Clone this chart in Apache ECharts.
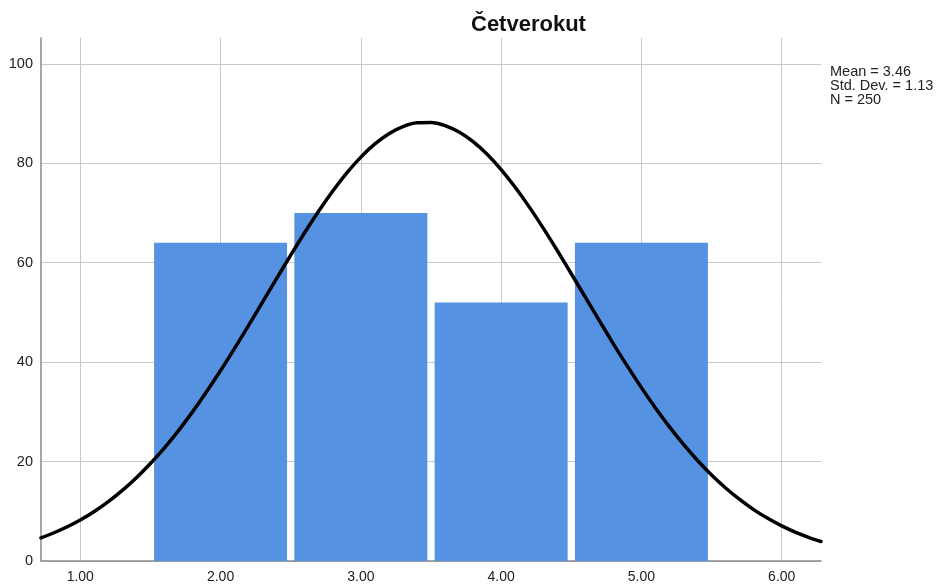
<!DOCTYPE html>
<html>
<head>
<meta charset="utf-8">
<script src="https://cdn.jsdelivr.net/npm/echarts@6/dist/echarts.min.js"></script>
<style>html,body{margin:0;padding:0;background:#fff;}#chart{width:940px;height:585px;}</style>
</head>
<body>
<div id="chart"></div>
<script>
const titleText = "Četverokut";
const statsLines = ["Mean = 3.46", "Std. Dev. = 1.13", "N = 250"];
const binCenters = [2, 3, 4, 5];
const binCounts = [64, 70, 52, 64];
const curveX = [0.72, 0.8, 0.9, 1.0, 1.1, 1.2, 1.3, 1.4, 1.5, 1.6, 1.7, 1.8, 1.9, 2.0, 2.1, 2.2, 2.3, 2.4, 2.5, 2.6, 2.7, 2.8, 2.9, 3.0, 3.1, 3.2, 3.3, 3.4, 3.5, 3.6, 3.7, 3.8, 3.9, 4.0, 4.1, 4.2, 4.3, 4.4, 4.5, 4.6, 4.7, 4.8, 4.9, 5.0, 5.1, 5.2, 5.3, 5.4, 5.5, 5.6, 5.7, 5.8, 5.9, 6.0, 6.1, 6.2, 6.28];
const curveY = [4.67, 5.53, 6.78, 8.25, 9.97, 11.94, 14.2, 16.75, 19.61, 22.77, 26.24, 30.0, 34.04, 38.31, 42.78, 47.4, 52.11, 56.84, 61.52, 66.07, 70.4, 74.42, 78.06, 81.24, 83.89, 85.96, 87.38, 88.14, 88.2, 87.59, 86.29, 84.35, 81.82, 78.74, 75.18, 71.23, 66.95, 62.45, 57.78, 53.06, 48.34, 43.69, 39.19, 34.87, 30.79, 26.97, 23.44, 20.22, 17.3, 14.69, 12.38, 10.34, 8.58, 7.06, 5.76, 4.67, 3.92];
const xTickValues = [1, 2, 3, 4, 5, 6];
const yTickValues = [0, 20, 40, 60, 80, 100];

const chart = echarts.init(document.getElementById('chart'), null, {renderer: 'canvas'});
const FONT = 'Liberation Sans, Arial, sans-serif';
const grid = '#c8c8c8';
const none = 'rgba(0,0,0,0)';
const isTick = (v, list) => list.some(t => Math.abs(t - v) < 1e-6);

chart.setOption({
  animation: false,
  backgroundColor: '#ffffff',
  title: [
    {text: titleText, left: 466, top: 9,
     textStyle: {fontFamily: FONT, fontSize: 22, fontWeight: 'bold', color: '#111'}},
    {text: statsLines.join('\n'), left: 825, top: 60,
     textStyle: {fontFamily: FONT, fontSize: 14.5, fontWeight: 'normal', color: '#222', lineHeight: 14}}
  ],
  grid: {left: 41, right: 119, top: 38, bottom: 24, containLabel: false},
  xAxis: {
    type: 'value', min: 0.72, max: 6.28, minInterval: 1, maxInterval: 1,
    axisLine: {show: true, onZero: false, lineStyle: {color: '#8a8a8a', width: 1.5}},
    axisTick: {show: false},
    axisLabel: {show: true, margin: 9, fontFamily: FONT, fontSize: 14, color: '#222',
      showMinLabel: false, showMaxLabel: false,
      formatter: v => isTick(v, xTickValues) ? v.toFixed(2) : ''},
    splitLine: {show: true, lineStyle: {color: [none, grid, grid, grid, grid, grid, grid, none], width: 1}}
  },
  yAxis: {
    type: 'value', min: 0, max: 105.2, interval: 20,
    axisLine: {show: true, lineStyle: {color: '#8a8a8a', width: 1.5}},
    axisTick: {show: false},
    axisLabel: {show: true, margin: 8, fontFamily: FONT, fontSize: 14.5, color: '#222',
      showMaxLabel: false,
      formatter: v => isTick(v, yTickValues) ? String(v) : ''},
    splitLine: {show: true, lineStyle: {color: [grid, grid, grid, grid, grid, grid, none], width: 1}}
  },
  series: [
    {type: 'bar', data: binCenters.map((c, i) => [c, binCounts[i]]), barWidth: 133,
     itemStyle: {color: '#5592e2'}, z: 2},
    {type: 'line', data: curveX.map((x, i) => [x, curveY[i]]), smooth: 0.3, symbol: 'none',
     lineStyle: {color: '#000', width: 3.5, join: 'round', cap: 'round'}, z: 3}
  ]
});
</script>
</body>
</html>
